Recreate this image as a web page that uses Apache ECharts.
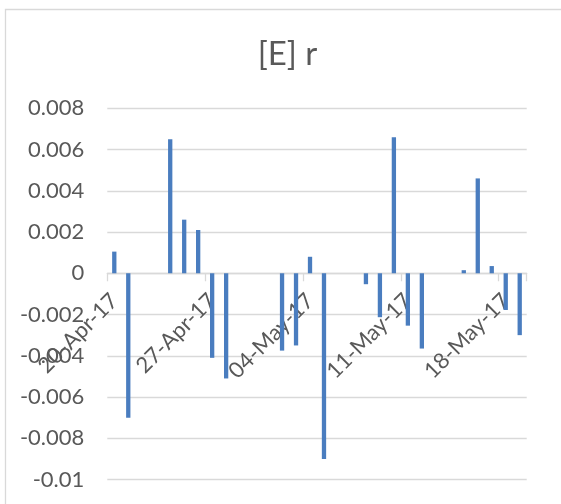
<!DOCTYPE html>
<html>
<head>
<meta charset="utf-8">
<script src="https://cdn.jsdelivr.net/npm/echarts@6/dist/echarts.min.js"></script>
<style>
html,body{margin:0;padding:0;background:#fff;}
#chart{width:561px;height:504px;}
</style>
</head>
<body>
<div id="chart"></div>
<script>
const titleText = '[E] r';
const dates = ['20-Apr-17','21-Apr-17','22-Apr-17','23-Apr-17','24-Apr-17','25-Apr-17','26-Apr-17','27-Apr-17','28-Apr-17','29-Apr-17','30-Apr-17',
  '01-May-17','02-May-17','03-May-17','04-May-17','05-May-17','06-May-17','07-May-17','08-May-17','09-May-17','10-May-17',
  '11-May-17','12-May-17','13-May-17','14-May-17','15-May-17','16-May-17','17-May-17','18-May-17','19-May-17'];
const rValues = [0.00105,-0.0070,null,null,0.0065,0.0026,0.0021,-0.0041,-0.0051,null,null,
  null,-0.00375,-0.0035,0.0008,-0.0090,null,null,-0.00053,-0.00213,0.0066,
  -0.00254,-0.00365,null,null,0.00015,0.0046,0.00035,-0.00178,-0.0030];
const yMin = -0.01, yMax = 0.008, yStep = 0.002;

const gTop = 108.3, gBottom = 24.5, H = 504;
const plotH = H - gTop - gBottom;
const zeroOffset = -plotH * (0 - yMin) / (yMax - yMin);

const chart = echarts.init(document.getElementById('chart'), null, {renderer:'canvas'});
const txt = '#595959';
const grid = '#d9d9d9';
chart.setOption({
  animation:false,
  backgroundColor:'#ffffff',
  graphic:[
    {type:'rect', shape:{x:5.5,y:9.5,width:800,height:800}, style:{fill:'none', stroke:'#d9d9d9', lineWidth:1.3}, silent:true, z:-1},
    {type:'text', x:287.5, y:54, style:{text:titleText, fill:txt, font:'33px Lato', align:'center', verticalAlign:'middle'}}
  ],
  grid:{left:107.3, right:34.3, top:gTop, bottom:gBottom, containLabel:false, outerBoundsMode:'none'},
  xAxis:{
    type:'category', data:dates, boundaryGap:true, position:'bottom', offset:zeroOffset,
    axisLine:{show:true, onZero:false, lineStyle:{color:grid, width:1.3}},
    axisTick:{show:true, interval:6, length:8, lineStyle:{color:grid, width:1.3}},
    axisLabel:{interval:6, rotate:45, color:txt, fontFamily:'Lato', fontSize:22, margin:24},
    splitLine:{show:false}
  },
  yAxis:{
    type:'value', min:yMin, max:yMax, interval:yStep,
    axisLine:{show:false}, axisTick:{show:false},
    axisLabel:{color:txt, fontFamily:'Lato', fontSize:22, margin:23,
      formatter:v=>String(+v.toFixed(3))},
    splitLine:{show:true, lineStyle:{color:grid, width:1.3}}
  },
  series:[{
    type:'bar', name:'r', data:rValues, barWidth:4.3,
    itemStyle:{color:'#4a7dbf'}
  }]
});
</script>
</body>
</html>
